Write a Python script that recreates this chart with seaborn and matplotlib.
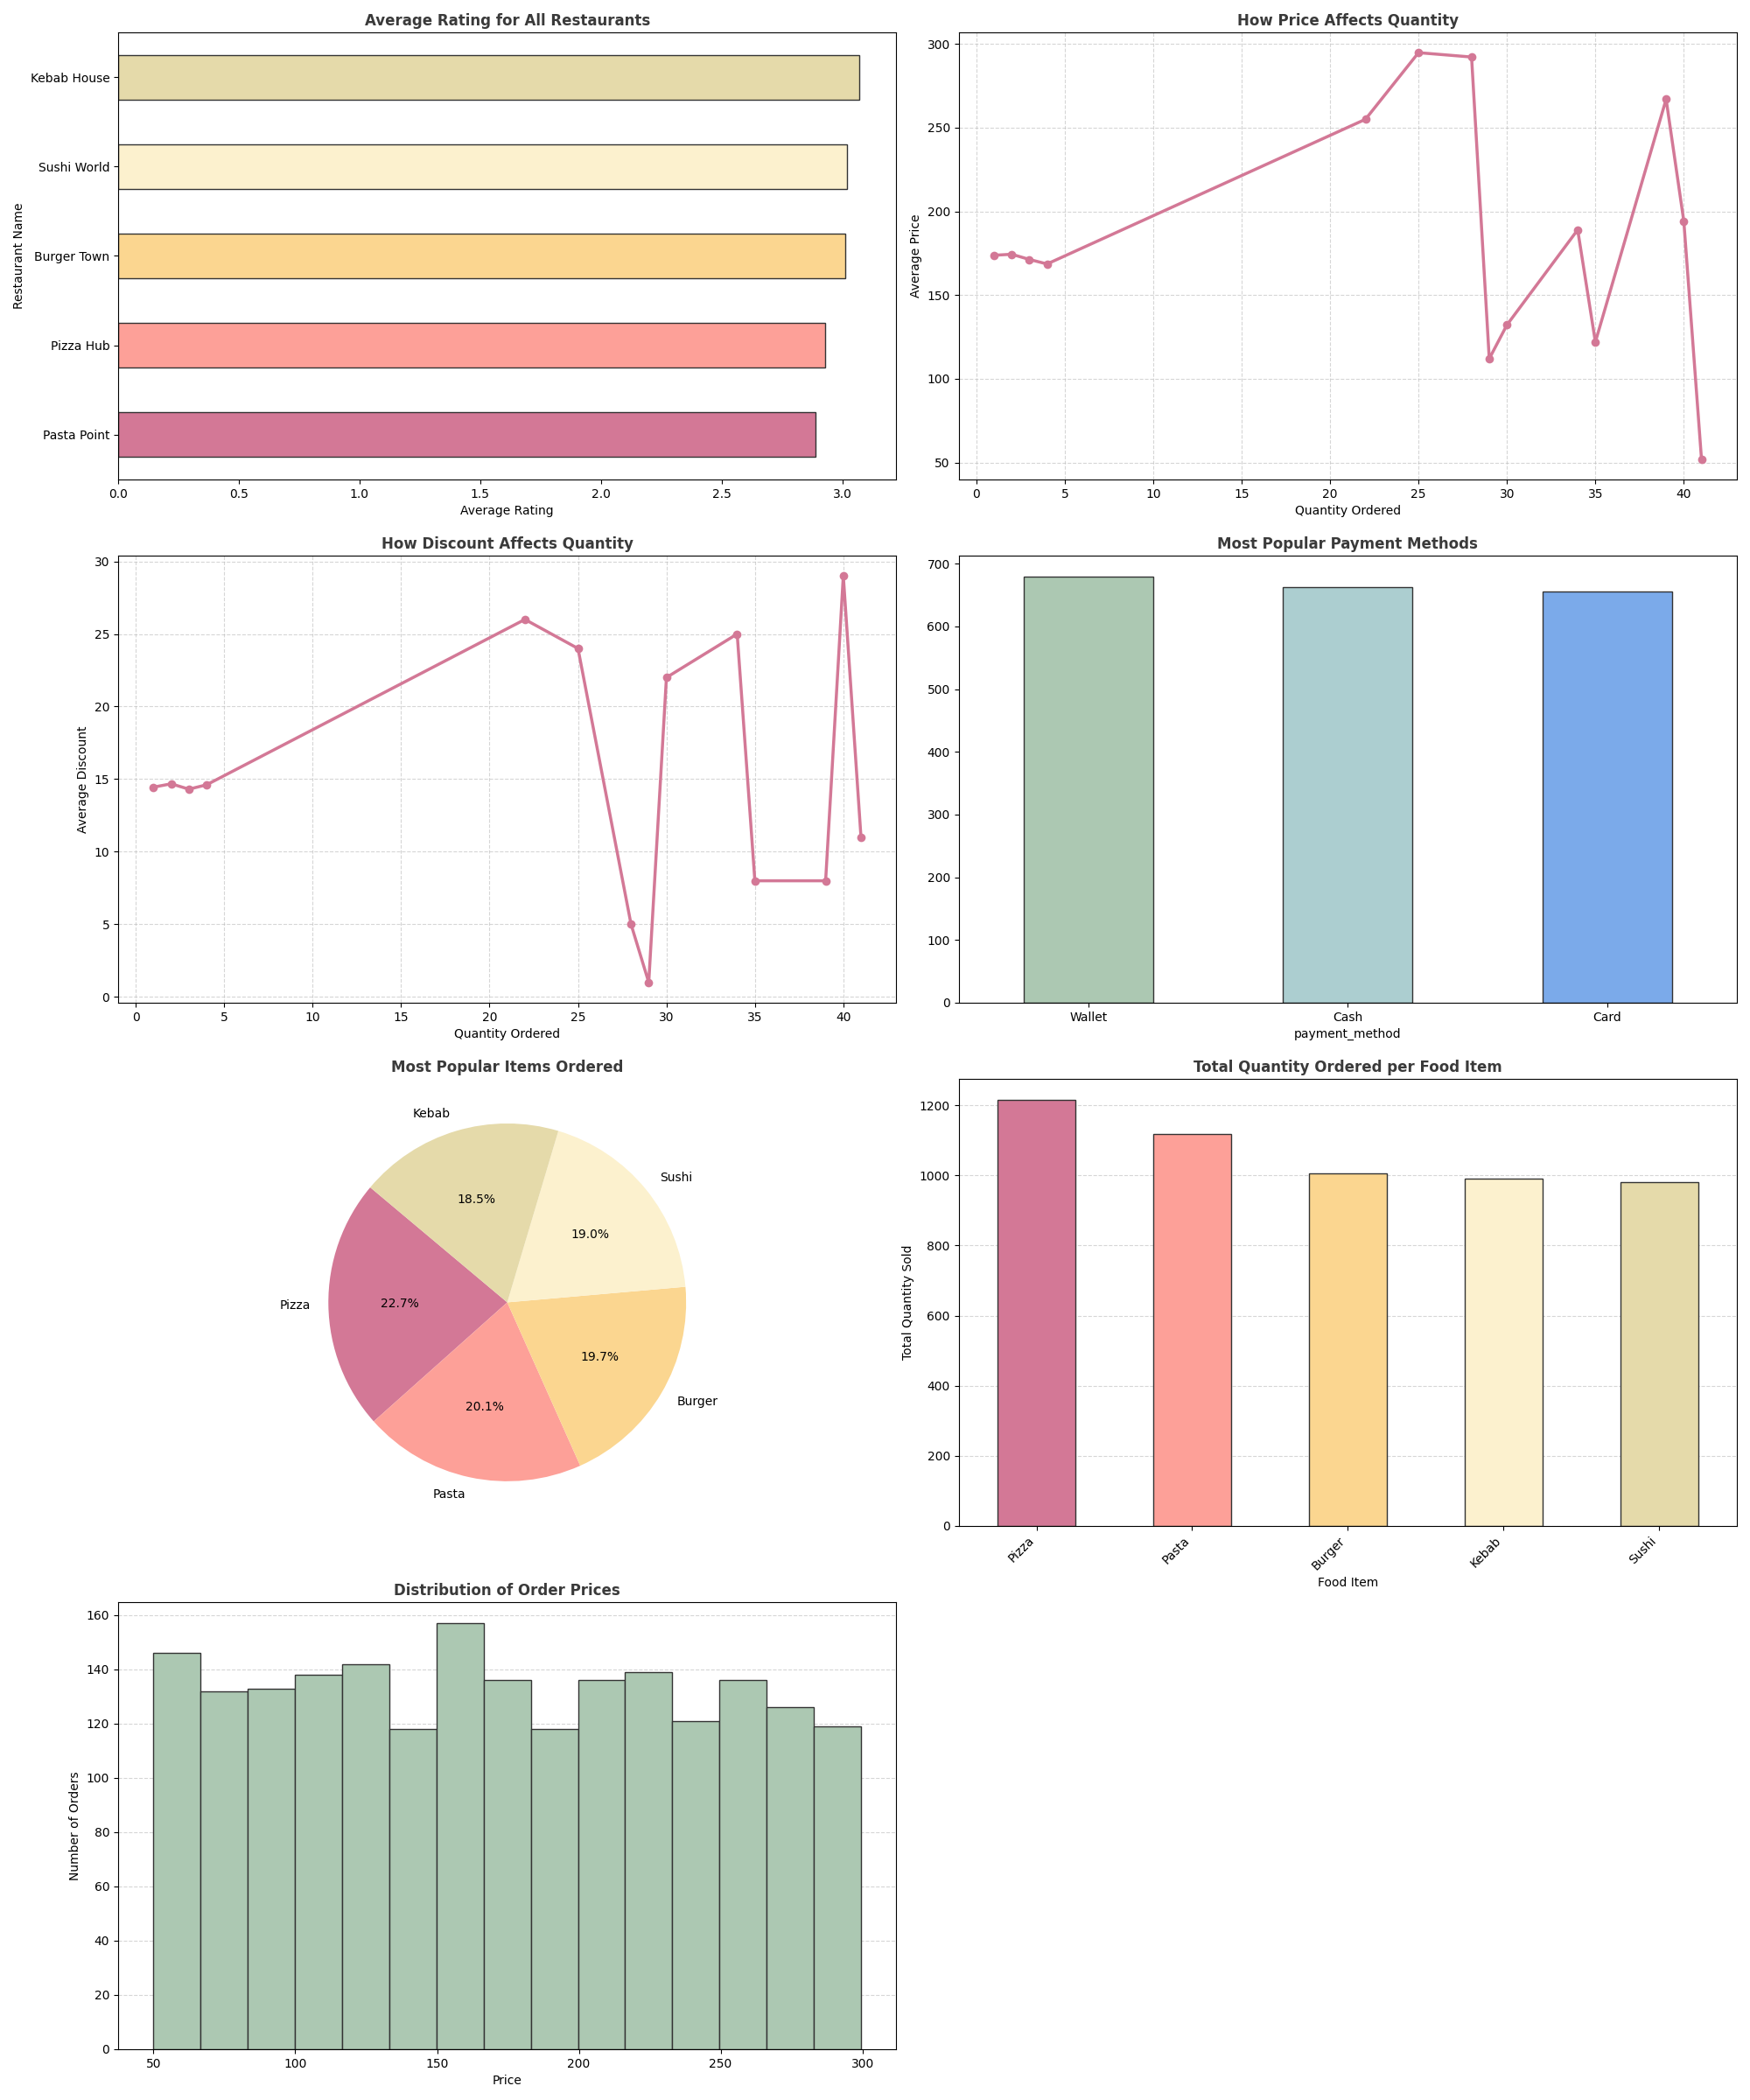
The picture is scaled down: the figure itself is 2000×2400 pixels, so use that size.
import numpy as np
import pandas as pd
import seaborn as sns
import matplotlib
matplotlib.use('Agg')
import matplotlib.pyplot as plt

# ---- data ----
restaurants = ['Pasta Point', 'Pizza Hub', 'Burger Town', 'Sushi World', 'Kebab House']
avg_rating = [2.89, 2.93, 3.01, 3.02, 3.07]

qty_levels = [1, 2, 3, 4, 22, 25, 28, 29, 30, 34, 35, 39, 40, 41]
avg_price = [173.8, 174.4, 171.3, 168.6, 255.0, 294.8, 292.2, 112.0, 132.2, 189.0, 122.0, 267.0, 194.2, 52.0]
avg_discount = [14.45, 14.68, 14.31, 14.61, 26.0, 24.0, 5.0, 1.0, 22.0, 25.0, 8.0, 8.0, 29.0, 11.0]

pay_methods = ['Wallet', 'Cash', 'Card']
pay_counts = [679, 662, 656]

items = ['Pizza', 'Pasta', 'Burger', 'Sushi', 'Kebab']
item_orders = [454, 402, 394, 380, 370]

food_items = ['Pizza', 'Pasta', 'Burger', 'Kebab', 'Sushi']
food_qty = [1215, 1117, 1007, 992, 980]

price_bin_counts = [146, 132, 133, 138, 142, 118, 157, 136, 118, 136, 139, 121, 136, 126, 119]
price_min, price_max = 50, 299.5

# ---- colours ----
warm = ['#D37896', '#FDA098', '#FBD690', '#FCF1CE', '#E5DAAA']
pay_colors = ['#ACC8B2', '#ACCED0', '#7BAAEA']
line_color = '#D37896'
title_kw = dict(fontsize=12, fontweight='bold', color='#3a3a3a')
grid_kw = dict(linestyle='--', color='#bbbbbb', alpha=0.6)

fig, axes = plt.subplots(4, 2, figsize=(20, 24), dpi=100)
fig.subplots_adjust(left=0.0675, right=0.9925, top=0.9846, bottom=0.0242,
                    wspace=0.08, hspace=0.17)

# 1. average rating per restaurant
ax = axes[0, 0]
rating_df = pd.DataFrame({'restaurant': restaurants, 'rating': avg_rating})
rating_order = restaurants[::-1]
sns.barplot(data=rating_df, y='restaurant', x='rating', hue='restaurant',
            order=rating_order, hue_order=restaurants, palette=warm, saturation=1,
            width=0.5, edgecolor='#333333', linewidth=1, legend=False, ax=ax)
ax.set_title('Average Rating for All Restaurants', **title_kw)
ax.set_xlabel('Average Rating')
ax.set_ylabel('Restaurant Name')

# 2. price vs quantity
ax = axes[0, 1]
sns.lineplot(x=qty_levels, y=avg_price, marker='o', color=line_color,
             linewidth=2.5, markersize=7, markeredgewidth=0, ax=ax)
ax.set_title('How Price Affects Quantity', **title_kw)
ax.set_xlabel('Quantity Ordered')
ax.set_ylabel('Average Price')
ax.grid(True, **grid_kw)

# 3. discount vs quantity
ax = axes[1, 0]
sns.lineplot(x=qty_levels, y=avg_discount, marker='o', color=line_color,
             linewidth=2.5, markersize=7, markeredgewidth=0, ax=ax)
ax.set_title('How Discount Affects Quantity', **title_kw)
ax.set_xlabel('Quantity Ordered')
ax.set_ylabel('Average Discount')
ax.grid(True, **grid_kw)

# 4. payment methods
ax = axes[1, 1]
pay_df = pd.DataFrame({'payment_method': pay_methods, 'count': pay_counts})
sns.barplot(data=pay_df, x='payment_method', y='count', hue='payment_method',
            palette=pay_colors, saturation=1, width=0.5, edgecolor='#333333',
            linewidth=1, legend=False, ax=ax)
ax.set_title('Most Popular Payment Methods', **title_kw)
ax.set_xlabel('payment_method')
ax.set_ylabel('')

# 5. pie of items
ax = axes[2, 0]
ax.pie(item_orders, labels=items, autopct='%1.1f%%', startangle=140, colors=warm)
ax.set_title('Most Popular Items Ordered', **title_kw)

# 6. total quantity per food item
ax = axes[2, 1]
food_df = pd.DataFrame({'food': food_items, 'qty': food_qty})
sns.barplot(data=food_df, x='food', y='qty', hue='food', palette=warm, saturation=1,
            width=0.5, edgecolor='#333333', linewidth=1, legend=False, ax=ax)
ax.set_title('Total Quantity Ordered per Food Item', **title_kw)
ax.set_xlabel('Food Item')
ax.set_ylabel('Total Quantity Sold')
ax.grid(True, axis='y', **grid_kw)
ax.set_axisbelow(True)
plt.setp(ax.get_xticklabels(), rotation=45, ha='right')

# 7. price distribution
ax = axes[3, 0]
bin_edges = np.linspace(price_min, price_max, len(price_bin_counts) + 1)
hist_df = pd.DataFrame({'price': (bin_edges[:-1] + bin_edges[1:]) / 2,
                        'orders': price_bin_counts})
sns.histplot(data=hist_df, x='price', weights='orders', bins=list(bin_edges),
             color='#ACC8B2', edgecolor='#333333', linewidth=1, alpha=1, ax=ax)
ax.set_title('Distribution of Order Prices', **title_kw)
ax.set_xlabel('Price')
ax.set_ylabel('Number of Orders')
ax.grid(True, axis='y', **grid_kw)
ax.set_axisbelow(True)

fig.delaxes(axes[3, 1])

plt.savefig('out.png', dpi=100)
